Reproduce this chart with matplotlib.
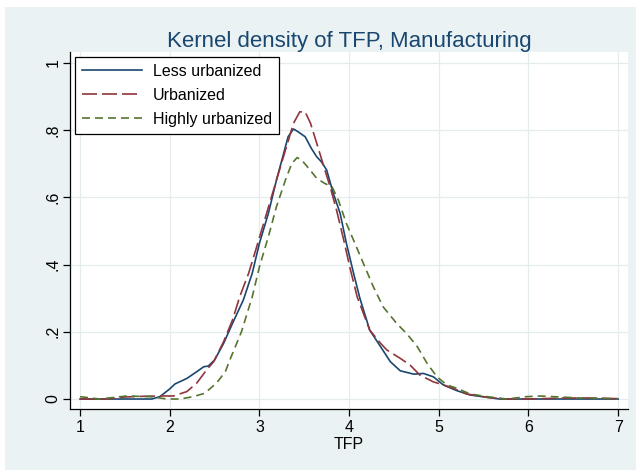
import matplotlib
matplotlib.use("Agg")
import matplotlib.pyplot as plt
from matplotlib.patches import Rectangle

plt.rcParams['font.family'] = ['Liberation Sans', 'DejaVu Sans']

# kernel density estimates
tfp_less = [1.0, 1.8, 1.89, 2.0, 2.06, 2.19, 2.30, 2.38, 2.43, 2.5,
            2.6, 2.7, 2.82, 2.92, 3.0, 3.1, 3.19, 3.27, 3.32, 3.38,
            3.43, 3.51, 3.58, 3.64, 3.69, 3.75, 3.82, 3.9, 3.97, 4.05,
            4.12, 4.23, 4.35, 4.46, 4.57, 4.72, 4.83, 4.94, 5.05, 5.2,
            5.35, 5.54, 5.68, 7.0]
dens_less = [0.0, 0.0, 0.007, 0.03, 0.045, 0.061, 0.081, 0.096, 0.098, 0.116,
             0.165, 0.225, 0.294, 0.374, 0.463, 0.552, 0.651, 0.73, 0.78, 0.803,
             0.795, 0.78, 0.745, 0.72, 0.706, 0.681, 0.615, 0.552, 0.463, 0.374,
             0.3, 0.205, 0.156, 0.111, 0.084, 0.074, 0.076, 0.066, 0.042, 0.025,
             0.012, 0.005, 0.0, 0.0]

tfp_urb = [1.0, 1.3, 1.5, 1.7, 1.9, 2.04, 2.19, 2.30, 2.41, 2.49,
           2.6, 2.7, 2.78, 2.88, 2.97, 3.08, 3.19, 3.29, 3.38, 3.45,
           3.51, 3.57, 3.64, 3.72, 3.79, 3.86, 3.94, 4.01, 4.09, 4.23,
           4.35, 4.42, 4.57, 4.68, 4.79, 4.94, 5.05, 5.16, 5.31, 5.54,
           5.7, 6.0, 6.4, 6.7, 7.0]
dens_urb = [0.0, 0.0, 0.006, 0.008, 0.009, 0.009, 0.022, 0.047, 0.086, 0.111,
            0.17, 0.235, 0.304, 0.374, 0.453, 0.552, 0.651, 0.74, 0.82, 0.854,
            0.854, 0.82, 0.76, 0.69, 0.63, 0.562, 0.473, 0.39, 0.304, 0.205,
            0.166, 0.146, 0.121, 0.101, 0.071, 0.051, 0.042, 0.032, 0.015, 0.005,
            0.0, 0.0, 0.003, 0.003, 0.001]

tfp_high = [1.0, 1.22, 1.52, 1.78, 1.97, 2.12, 2.26, 2.39, 2.52, 2.62,
            2.67, 2.8, 2.92, 3.0, 3.1, 3.19, 3.29, 3.36, 3.42, 3.47,
            3.55, 3.64, 3.73, 3.81, 3.88, 3.97, 4.06, 4.16, 4.27, 4.38,
            4.53, 4.64, 4.76, 4.87, 4.98, 5.09, 5.2, 5.35, 5.54, 5.76,
            5.98, 6.13, 6.28, 6.43, 6.58, 6.95, 7.0]
dens_high = [0.007, 0.0, 0.009, 0.007, 0.0, 0.0, 0.007, 0.017, 0.047, 0.081,
             0.116, 0.2, 0.304, 0.393, 0.483, 0.572, 0.651, 0.70, 0.718, 0.711,
             0.686, 0.656, 0.641, 0.631, 0.592, 0.522, 0.466, 0.403, 0.334, 0.274,
             0.225, 0.195, 0.156, 0.106, 0.066, 0.042, 0.032, 0.015, 0.007, 0.0,
             0.007, 0.009, 0.007, 0.005, 0.003, 0.001, 0.001]

xticks = [1, 2, 3, 4, 5, 6, 7]
yticks = [0, 0.2, 0.4, 0.6, 0.8, 1.0]
ytick_labels = ['0', '.2', '.4', '.6', '.8', '1']

bg = '#EAF2F3'

fig = plt.figure(figsize=(6.36, 4.70), dpi=100, facecolor='white')
# stata graph region, drawn behind the axes
region = Rectangle((5 / 636, 0), 631 / 636, 463 / 470,
                   transform=fig.transFigure, facecolor=bg,
                   edgecolor='none', zorder=-10)
fig.add_artist(region)
ax = fig.add_axes([70 / 636, 61 / 470, 558 / 636, 357 / 470])
ax.set_facecolor('white')

lw = 1.2
ax.plot(tfp_less, dens_less, color='#1A476F', lw=lw, label='Less urbanized')
ax.plot(tfp_urb, dens_urb, color='#90353B', lw=lw, dashes=(9, 3), label='Urbanized')
ax.plot(tfp_high, dens_high, color='#55752F', lw=lw, dashes=(4.8, 3),
        label='Highly urbanized')

ax.set_xlim(0.888, 7.11)
ax.set_ylim(-0.0297, 1.032)
ax.set_xticks(xticks)
ax.set_yticks(yticks)
ax.set_yticklabels(ytick_labels, rotation=90, va='center')
ax.grid(True, color='#E4ECEE', lw=0.9)
ax.set_axisbelow(True)

for s in ['top', 'right']:
    ax.spines[s].set_visible(False)
for s in ['left', 'bottom']:
    ax.spines[s].set_color('black')
    ax.spines[s].set_linewidth(0.9)

ax.tick_params(axis='both', length=5, width=0.9, labelsize=11.5, colors='black')
ax.tick_params(axis='x', pad=3)
ax.tick_params(axis='y', pad=2)

ax.set_xlabel('TFP', fontsize=11.5, labelpad=1.5)
ax.set_title('Kernel density of TFP, Manufacturing', fontsize=16,
             color='#1A476F', pad=3.5)

leg = ax.legend(loc='upper left', bbox_to_anchor=(0, 1), borderaxespad=0.31,
                fontsize=11.5, handlelength=3.75, handletextpad=0.69,
                borderpad=0.44, labelspacing=0.55, fancybox=False,
                framealpha=1, edgecolor='black')
leg.get_frame().set_linewidth(0.9)

fig.savefig('out.png', dpi=100, facecolor=fig.get_facecolor())
